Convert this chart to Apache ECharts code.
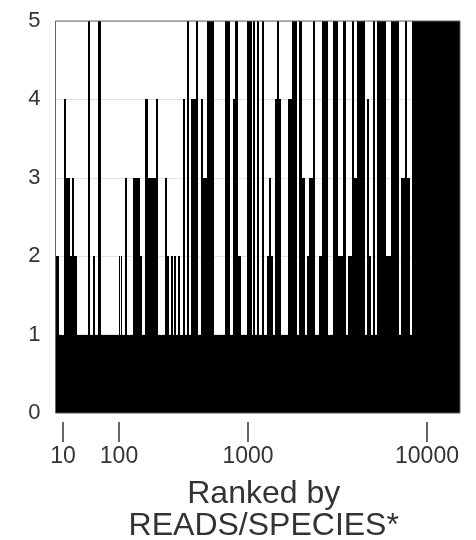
<!DOCTYPE html>
<html>
<head>
<meta charset="utf-8">
<script src="https://cdn.jsdelivr.net/npm/echarts@6/dist/echarts.min.js"></script>
<style>html,body{margin:0;padding:0;background:#fff}#c{width:476px;height:540px}</style>
</head>
<body>
<div id="c"></div>
<script>
// Rank position (start of each run of equal value) along the x axis
var runStart = [0,3.5,8.5,10.8,14.2,16.2,18.5,21.5,32.8,34.8,37.5,39.5,42.8,45,63.5,64.8,65.5,66.8,69,71,77,84,86.5,89.5,92.8,100.5,102.8,109,111,113.5,115,117,118.5,120.5,122,124,127,129.5,131.5,133.5,135,140.5,142.8,145.5,147.5,151.2,158.5,169.5,174.5,177.2,179.5,182.5,185.5,191.2,196.2,197.2,199.5,201.8,203.8,206.2,208.5,211.5,213.8,215.5,217,219.5,221.2,223.8,225.5,232.5,236.2,241.2,243.8,246.5,249.5,251.5,253.5,257.5,259.8,263.8,266.2,272.8,277.8,282.8,287.8,290.5,292.8,296.2,298.5,301.2,309.5,311.8,313,315,317.2,319.8,321.5,330.5,335.5,343.5,345.8,349.2,351.5,354.2,356.8];
// Value (0-5) for each run
var runValue = [2,1,4,3,2,3,2,1,5,1,2,1,5,1,2,1,2,1,3,1,3,2,1,4,3,4,1,3,2,1,2,1,2,1,2,1,4,1,5,1,4,5,1,4,3,5,1,5,1,4,5,2,1,5,1,5,1,5,1,5,1,2,3,2,1,4,5,4,1,4,5,1,5,3,1,2,3,5,1,2,5,1,5,2,5,1,2,5,3,5,1,4,2,1,5,1,5,2,5,1,3,5,3,1,5];
var xEnd = 404.5;
var tickPos = [7.5, 63.5, 192.5, 371.5];
var tickLabels = ['10', '100', '1000', '10000'];

var data = [];
for (var i = 0; i < runStart.length; i++) {
  var e = i + 1 < runStart.length ? runStart[i + 1] : xEnd;
  data.push([runStart[i], e, runValue[i]]);
}

var FONT = 'Liberation Sans, Arial, sans-serif';
var chart = echarts.init(document.getElementById('c'), null, {renderer: 'canvas'});
chart.setOption({
  animation: false,
  backgroundColor: '#fff',
  grid: {left: 55.5, right: 16, top: 21, bottom: 127, containLabel: false, outerBoundsMode: 'none',
         show: true, borderColor: '#666', borderWidth: 1, backgroundColor: 'transparent', z: 3},
  xAxis: {
    type: 'value', min: 0, max: xEnd, offset: 9,
    axisLine: {show: false},
    splitLine: {show: false},
    axisTick: {show: true, customValues: tickPos, length: 29,
               lineStyle: {color: '#333', width: 1.5, type: [20, 9], dashOffset: 20}},
    axisLabel: {customValues: tickPos, margin: 23, fontSize: 23, color: '#333', fontFamily: FONT,
      formatter: function (v) { var k = tickPos.indexOf(v); return k >= 0 ? tickLabels[k] : ''; }},
    name: 'Ranked by\nREADS/SPECIES*', nameLocation: 'middle', nameGap: 56,
    nameTextStyle: {fontSize: 32, lineHeight: 32, color: '#333', fontFamily: FONT, verticalAlign: 'top',
                    padding: [0, 0, 0, 12]}
  },
  yAxis: {
    type: 'value', min: 0, max: 5, interval: 1,
    axisLine: {show: false}, axisTick: {show: false},
    axisLabel: {margin: 15, fontSize: 22, color: '#333', fontFamily: FONT},
    splitLine: {show: true, lineStyle: {color: '#e2e2e2', width: 1}}
  },
  series: [{
    type: 'custom', data: data, encode: {x: [0, 1], y: 2}, z: 2,
    renderItem: function (params, api) {
      var p0 = api.coord([api.value(0), 0]);
      var p1 = api.coord([api.value(1), api.value(2)]);
      var x0 = Math.round(p0[0]), x1 = Math.round(p1[0]);
      var y0 = Math.round(p0[1]), y1 = Math.round(p1[1]);
      return {type: 'rect', shape: {x: x0, y: y1, width: x1 - x0, height: y0 - y1}, style: {fill: '#000'}};
    }
  }]
});
</script>
</body>
</html>
